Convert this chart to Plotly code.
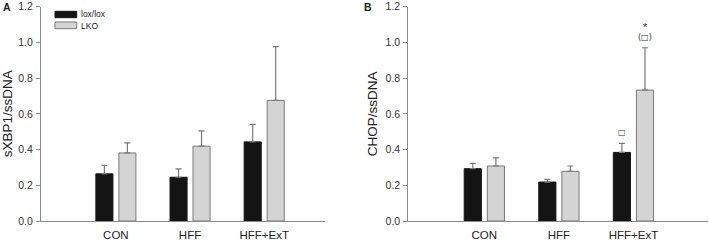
import plotly.graph_objects as go

categories = ["CON", "HFF", "HFF+ExT"]
series_names = ["lox/lox", "LKO"]

# Panel A: sXBP1/ssDNA
a_lox = [0.264, 0.245, 0.443]
a_lox_err = [0.047, 0.047, 0.098]
a_lko = [0.381, 0.419, 0.675]
a_lko_err = [0.056, 0.086, 0.301]

# Panel B: CHOP/ssDNA
b_lox = [0.293, 0.218, 0.384]
b_lox_err = [0.030, 0.015, 0.051]
b_lko = [0.308, 0.278, 0.733]
b_lko_err = [0.045, 0.030, 0.237]

y_ticks = [0.0, 0.2, 0.4, 0.6, 0.8, 1.0, 1.2]

W, H = 709, 242
FONT = "Liberation Sans, Arial, sans-serif"
xpos = list(range(len(categories)))

fig = go.Figure()

def add_panel(lox, lox_err, lko, lko_err, xa, ya):
    fig.add_trace(go.Bar(
        x=xpos, y=lox, name=series_names[0], width=0.23, offset=-0.27,
        marker=dict(color="#141414", line=dict(color="#141414", width=1)),
        error_y=dict(type="data", array=lox_err, symmetric=False, arrayminus=[0]*len(lox),
                     color="#7a7a7a", thickness=1.2, width=3),
        xaxis=xa, yaxis=ya, showlegend=False))
    fig.add_trace(go.Bar(
        x=xpos, y=lko, name=series_names[1], width=0.23, offset=0.04,
        marker=dict(color="#d4d4d4", line=dict(color="#7a7a7a", width=1)),
        error_y=dict(type="data", array=lko_err, symmetric=False, arrayminus=[0]*len(lko),
                     color="#7a7a7a", thickness=1.2, width=3),
        xaxis=xa, yaxis=ya, showlegend=False))

add_panel(a_lox, a_lox_err, a_lko, a_lko_err, "x", "y")
add_panel(b_lox, b_lox_err, b_lko, b_lko_err, "x2", "y2")

ydom = [1 - 221 / H, 1 - 6.7 / H]
axis_common = dict(showgrid=False, zeroline=False, showline=True, linecolor="#8a8a8a",
                   linewidth=1, automargin=False)
xaxis_common = dict(axis_common, tickmode="array", tickvals=xpos, ticktext=categories,
                    ticks="", ticklabelstandoff=3,
                    tickfont=dict(family=FONT, size=11.5, color="#222"))
yaxis_common = dict(axis_common, range=[0, 1.2], tickmode="array", tickvals=y_ticks,
                    ticktext=[f"{v:.1f}" for v in y_ticks], ticks="outside", ticklen=4,
                    tickcolor="#8a8a8a", ticklabelstandoff=1,
                    tickfont=dict(family=FONT, size=10.5, color="#333"),
                    domain=ydom)

fig.update_layout(
    width=W, height=H, margin=dict(l=0, r=0, t=0, b=0, autoexpand=False),
    paper_bgcolor="white", plot_bgcolor="white", barmode="overlay",
    xaxis=dict(xaxis_common, domain=[41 / W, 325 / W], range=[-1.01, 2.82], anchor="y"),
    yaxis=dict(yaxis_common, anchor="x",
               title=dict(text="sXBP1/ssDNA", font=dict(family=FONT, size=13.5, color="#222"), standoff=4)),
    xaxis2=dict(xaxis_common, domain=[408.3 / W, 708 / W], range=[-1.02, 3.0], anchor="y2"),
    yaxis2=dict(yaxis_common, anchor="x2",
                title=dict(text="CHOP/ssDNA", font=dict(family=FONT, size=13.5, color="#222"), standoff=4)),
)

def pann(text, x, y, size, xanchor="center", bold=False):
    return dict(text=f"<b>{text}</b>" if bold else text, x=x / W, y=1 - y / H,
                xref="paper", yref="paper", showarrow=False, xanchor=xanchor, yanchor="middle",
                font=dict(family=FONT, size=size, color="#222"))

anns = [
    pann("A", 7, 7.5, 10.5, bold=True),
    pann("B", 368, 7.5, 10.5, bold=True),
    pann(series_names[0], 79, 14.5, 8.5, xanchor="left"),
    pann(series_names[1], 79, 25.5, 8.5, xanchor="left"),
    dict(text="□", x=2 - 0.155, y=0.497, xref="x2", yref="y2", showarrow=False, yanchor="middle",
         font=dict(family="DejaVu Sans", size=8, color="#333")),
    dict(text="(□)", x=2 + 0.155, y=1.028, xref="x2", yref="y2", showarrow=False, yanchor="middle",
         font=dict(family="DejaVu Sans", size=8, color="#333")),
    dict(text="*", x=2 + 0.155, y=1.085, xref="x2", yref="y2", showarrow=False, yanchor="middle",
         font=dict(family=FONT, size=11, color="#333")),
]
fig.update_layout(annotations=anns)

shapes = [
    dict(type="rect", xref="paper", yref="paper", x0=55 / W, x1=76.7 / W, y0=1 - 17.7 / H, y1=1 - 11.3 / H,
         fillcolor="#141414", line=dict(color="#141414", width=1)),
    dict(type="rect", xref="paper", yref="paper", x0=55 / W, x1=76.7 / W, y0=1 - 28.7 / H, y1=1 - 22 / H,
         fillcolor="#d4d4d4", line=dict(color="#7a7a7a", width=1)),
]
fig.update_layout(shapes=shapes)

fig.write_html("out.html", config={"displayModeBar": False})

# remove the default page margin so the figure sits at the window's top-left corner
with open("out.html", encoding="utf-8") as f:
    html = f.read()
html = html.replace("<body>", '<body style="margin:0;padding:0;overflow:hidden">', 1)
with open("out.html", "w", encoding="utf-8") as f:
    f.write(html)
